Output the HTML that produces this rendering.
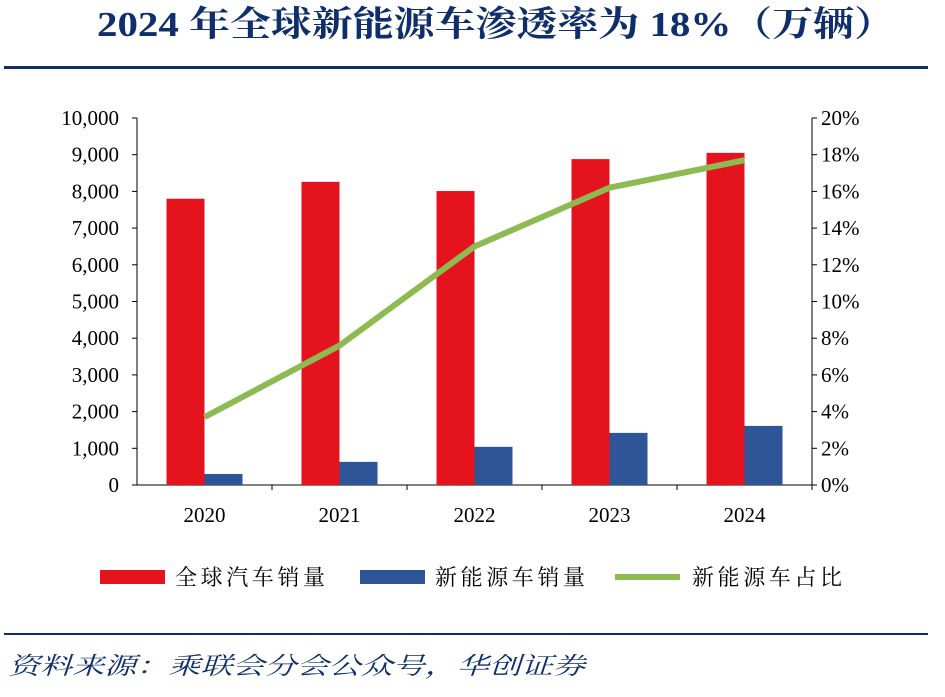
<!DOCTYPE html>
<html><head><meta charset="utf-8"><style>
body{margin:0;background:#fff;width:945px;height:692px;overflow:hidden}
svg text{font-family:"Liberation Serif","Noto Serif CJK SC",serif}
</style></head><body>
<svg width="945" height="692">
<text x="97" y="36" textLength="798" lengthAdjust="spacingAndGlyphs" font-size="35" font-weight="bold" fill="#0e2e6c">2024 年全球新能源车渗透率为 18%（万辆）</text>
<rect x="4" y="66" width="924" height="3" fill="#0e2e6c"/>
<g id="plot"></g>
<g font-size="22">
<rect x="100" y="570" width="65" height="14" fill="#e5131d"/>
<text x="175" y="585" textLength="150" lengthAdjust="spacing" style="font-family:'Noto Serif CJK SC',serif">全球汽车销量</text>
<rect x="360" y="570" width="65" height="14" fill="#2e5597"/>
<text x="435" y="585" textLength="150" lengthAdjust="spacing" style="font-family:'Noto Serif CJK SC',serif">新能源车销量</text>
<line x1="615" y1="577" x2="680" y2="577" stroke="#8dbb52" stroke-width="6"/>
<text x="692" y="585" textLength="150" lengthAdjust="spacing" style="font-family:'Noto Serif CJK SC',serif">新能源车占比</text>
</g>
<rect x="4" y="633" width="924" height="2" fill="#0e2e6c"/>
<text x="8" y="674" textLength="577" lengthAdjust="spacingAndGlyphs" font-size="24" font-style="italic" fill="#0e2e6c" style="font-family:'Noto Serif CJK SC',serif">资料来源：乘联会分会公众号，华创证券</text>
</svg>
<script>
const categories=["2020","2021","2022","2023","2024"];
const totalSales=[7800,8260,8010,8880,9050];
const nevSales=[300,630,1040,1420,1610];
const nevShare=[3.7,7.6,13.0,16.2,17.7];
const leftTicks=[0,1000,2000,3000,4000,5000,6000,7000,8000,9000,10000];
const rightTicks=[0,2,4,6,8,10,12,14,16,18,20];
const NS="http://www.w3.org/2000/svg";
const g=document.getElementById('plot');
const X0=137,X1=812,Y0=485,Y1=118,band=(X1-X0)/categories.length;
const yL=v=>Y0-(v/10000)*(Y0-Y1);
const yR=v=>Y0-(v/20)*(Y0-Y1);
const xC=i=>X0+band*(i+0.5);
function mk(t,a){const e=document.createElementNS(NS,t);for(const k in a)e.setAttribute(k,a[k]);g.appendChild(e);return e;}
let e;
e=mk('line',{x1:X0,y1:Y1,x2:X0,y2:Y0,stroke:'#000','stroke-width':1});


e=mk('line',{x1:X1,y1:Y1,x2:X1,y2:Y0,stroke:'#000','stroke-width':1});


e=mk('line',{x1:X0,y1:Y0,x2:X1,y2:Y0,stroke:'#000','stroke-width':1});


leftTicks.forEach(v=>{const y=yL(v);
e=mk('line',{x1:X0-5,y1:y,x2:X0,y2:y,stroke:'#000'});


e=mk('text',{x:X0-18,y:y+7,'text-anchor':'end','font-size':21});
e.textContent=v.toLocaleString('en-US');

});
rightTicks.forEach(v=>{const y=yR(v);
e=mk('line',{x1:X1,y1:y,x2:X1+5,y2:y,stroke:'#000'});


e=mk('text',{x:X1+9,y:y+7,'font-size':21});
e.textContent=v+'%';

});
categories.forEach((c,i)=>{
e=mk('line',{x1:X0+band*(i+1),y1:Y0,x2:X0+band*(i+1),y2:Y0+5,stroke:'#000'});


e=mk('rect',{x:xC(i)-38,y:yL(totalSales[i]),width:38,height:Y0-yL(totalSales[i]),fill:'#e5131d'});


e=mk('rect',{x:xC(i),y:yL(nevSales[i]),width:38,height:Y0-yL(nevSales[i]),fill:'#2e5597'});


e=mk('text',{x:xC(i),y:Y0+37,'text-anchor':'middle','font-size':21});
e.textContent=c;

});
e=mk('polyline',{points:nevShare.map((v,i)=>xC(i)+','+yR(v)).join(' '),fill:'none',stroke:'#8dbb52','stroke-width':6,'stroke-linejoin':'round'});


</script>
</body></html>
